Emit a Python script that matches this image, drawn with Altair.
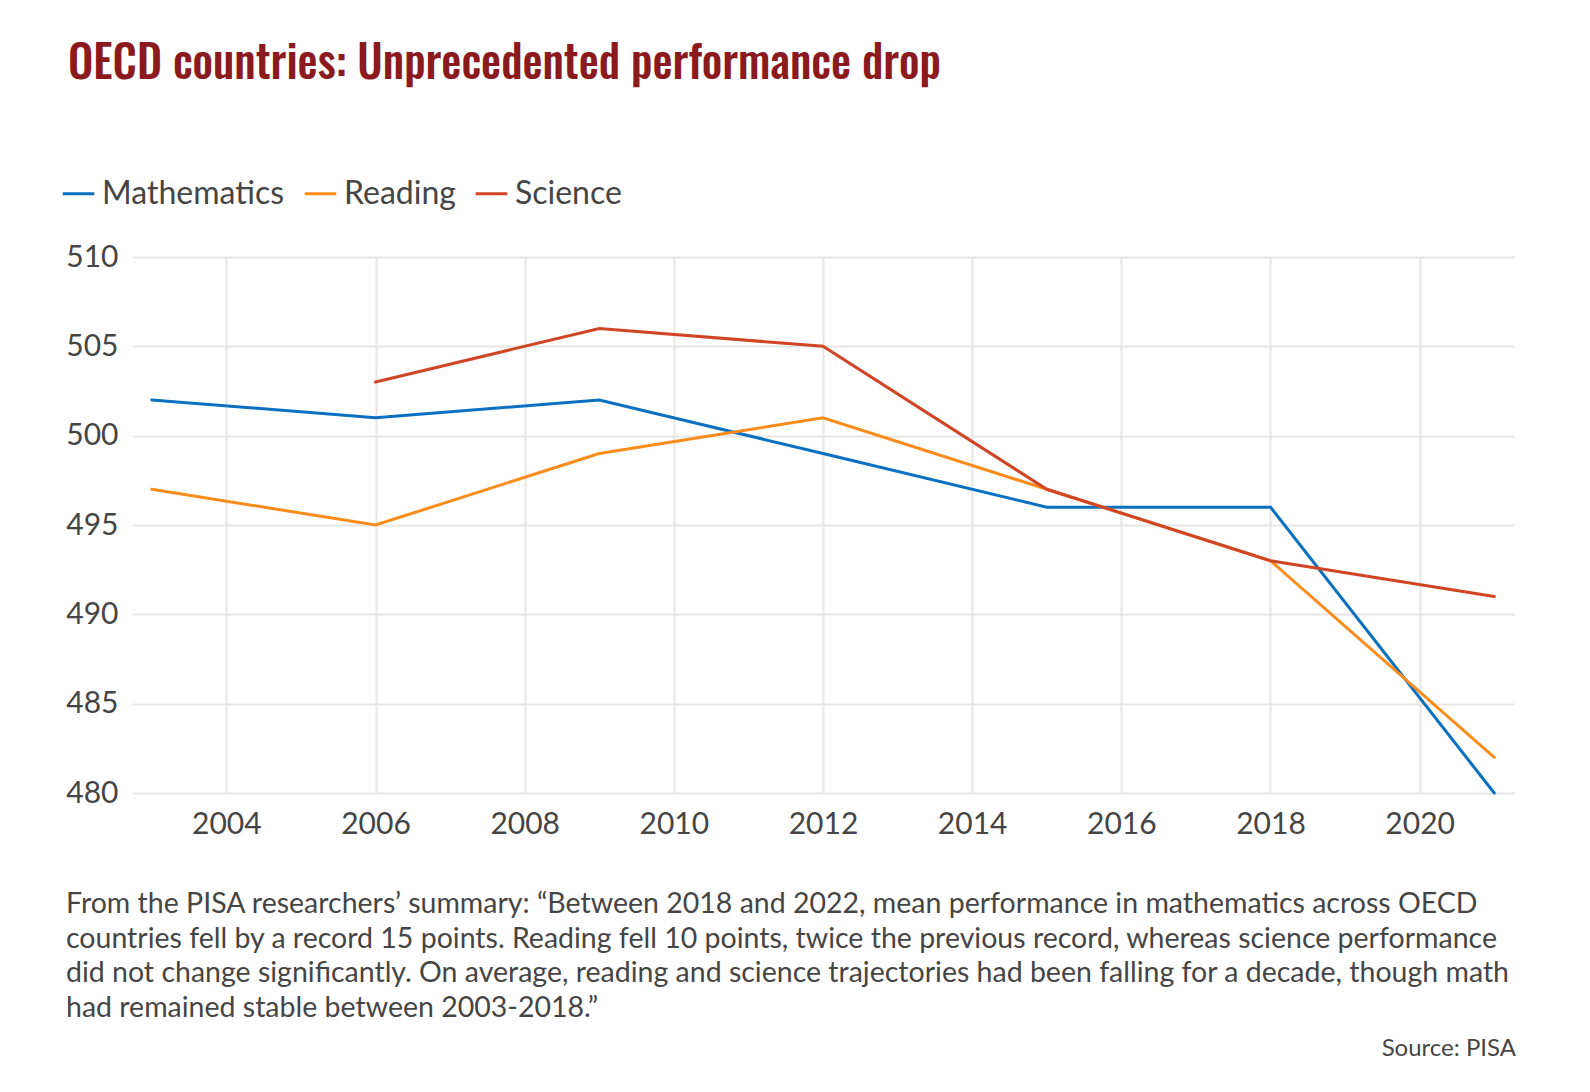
import altair as alt
import pandas as pd

# ---- data ----
years = [2003, 2006, 2009, 2012, 2015, 2018, 2021]
mathematics = [502, 501, 502, 499, 496, 496, 480]
reading = [497, 495, 499, 501, 497, 493, 482]
science = [None, 503, 506, 505, 497, 493, 491]

series_names = ["Mathematics", "Reading", "Science"]
series_colors = ["#0a70bf", "#fb8c1b", "#cf4525"]

x_ticks = [2004, 2006, 2008, 2010, 2012, 2014, 2016, 2018, 2020]
y_ticks = [480, 485, 490, 495, 500, 505, 510]

title_text = "OECD countries: Unprecedented performance drop"
note_lines = [
    "From the PISA researchers\u2019 summary: \u201cBetween 2018 and 2022, mean performance in mathematics across OECD",
    "countries fell by a record 15 points. Reading fell 10 points, twice the previous record, whereas science performance",
    "did not change significantly. On average, reading and science trajectories had been falling for a decade, though math",
    "had remained stable between 2003-2018.\u201d",
]
source_text = "Source: PISA"

rows = []
for name, vals in zip(series_names, [mathematics, reading, science]):
    for yr, v in zip(years, vals):
        if v is not None:
            rows.append({"year": yr, "score": v, "subject": name})
df = pd.DataFrame(rows)

TEXT = "#454545"
FONT = "Lato"
W, H = 1382, 536

lines = alt.Chart(df).mark_line(strokeWidth=3, strokeCap="round").encode(
    x=alt.X("year:Q",
            scale=alt.Scale(domain=[2002.735, 2021.265], nice=False, zero=False),
            axis=alt.Axis(values=x_ticks, format="d", title=None, domain=False,
                          ticks=False, tickSize=0, labelPadding=16,
                          labelFontSize=30, labelColor=TEXT, labelFont=FONT,
                          grid=True, gridColor="#e6e6e6", gridWidth=2)),
    y=alt.Y("score:Q",
            scale=alt.Scale(domain=[480, 510], nice=False, zero=False),
            axis=alt.Axis(values=y_ticks, title=None, domain=False,
                          ticks=False, tickSize=0, labelPadding=14,
                          labelFontSize=30, labelColor=TEXT, labelFont=FONT,
                          grid=True, gridColor="#e6e6e6", gridWidth=2)),
    color=alt.Color("subject:N",
                    scale=alt.Scale(domain=series_names, range=series_colors),
                    legend=alt.Legend(title=None, orient="none", direction="horizontal",
                                      legendX=-71, legendY=-81,
                                      symbolType="stroke", symbolSize=1000,
                                      symbolStrokeWidth=3, labelFontSize=32,
                                      labelFont=FONT, labelColor=TEXT, labelLimit=0,
                                      labelOffset=6, columnPadding=13)),
    order=alt.Order("year:Q"),
)

note = alt.Chart().mark_text(
    text=note_lines, align="left", baseline="alphabetic", font=FONT,
    fontSize=28.5, lineHeight=34.5, color=TEXT,
).encode(x=alt.value(-66), y=alt.value(656))

source = alt.Chart().mark_text(
    text=source_text, align="right", baseline="alphabetic", font=FONT,
    fontSize=24, color=TEXT,
).encode(x=alt.value(1384), y=alt.value(799))

chart = alt.layer(lines, note, source).properties(
    width=W, height=H,
    title=alt.TitleParams(title_text, anchor="start", frame="group", dx=-64,
                          font="Oswald, 'Noto Sans ExtraCondensed', 'Noto Sans Condensed', 'Liberation Sans Narrow', 'DejaVu Sans Condensed', sans-serif",
                          fontSize=45, fontWeight=500, color="#8b1a1e", offset=88),
    autosize=alt.AutoSizeParams(type="none"),
    padding={"left": 124, "top": 249, "right": 68, "bottom": 290},
).configure_view(stroke=None)

chart.save("out.html", embed_options={"renderer": "svg", "actions": False})
